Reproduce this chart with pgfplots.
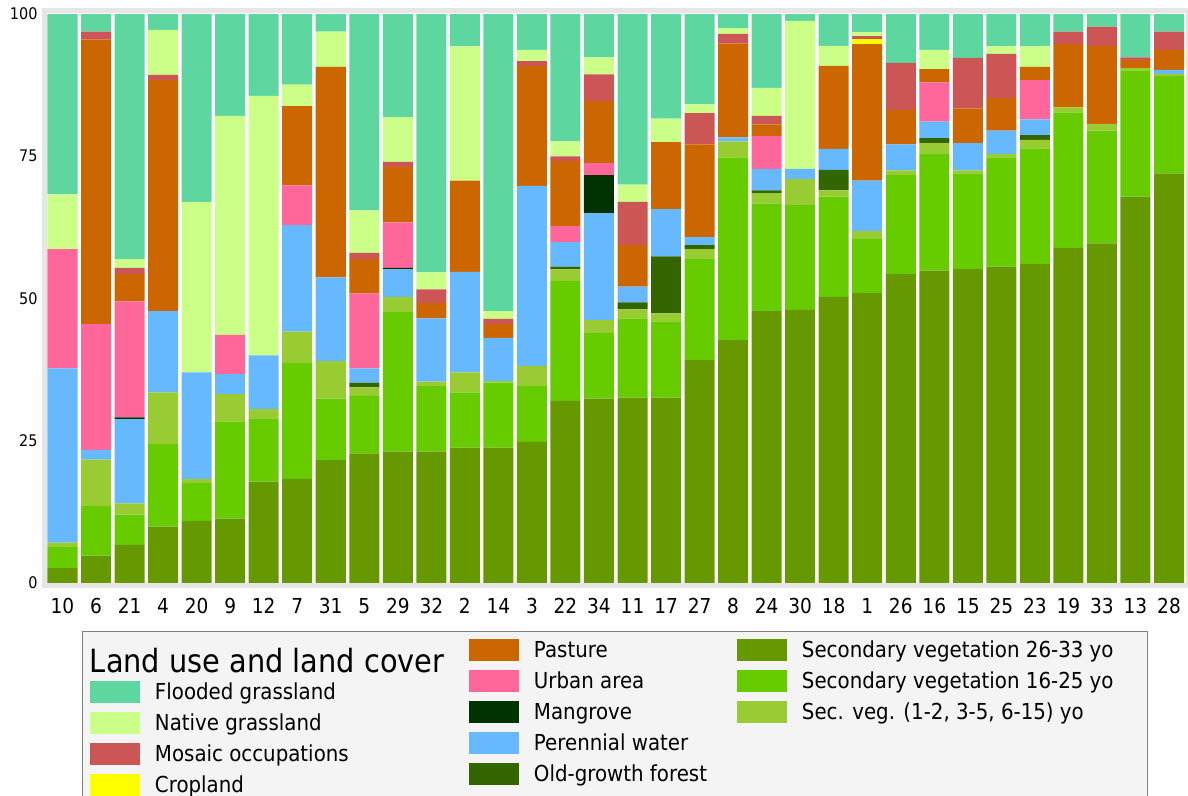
\documentclass[border=0pt]{standalone}
\usepackage{fontspec}
\setmainfont{DejaVu Sans}[FakeStretch=0.9]
\usepackage{pgfplots}
\usepackage{pgfplotstable}
\pgfplotsset{compat=1.18}

\definecolor{cFlo}{HTML}{5ED6A0}
\definecolor{cNat}{HTML}{CCFF88}
\definecolor{cMos}{HTML}{CC5555}
\definecolor{cCrop}{HTML}{FFFF00}
\definecolor{cPast}{HTML}{CC6600}
\definecolor{cUrb}{HTML}{FF6699}
\definecolor{cMang}{HTML}{003300}
\definecolor{cWat}{HTML}{66B8FF}
\definecolor{cOld}{HTML}{336600}
\definecolor{cSA}{HTML}{669900}
\definecolor{cSB}{HTML}{66CC00}
\definecolor{cSC}{HTML}{99CC33}
\definecolor{frm}{HTML}{E6E6E6}
\definecolor{legbg}{HTML}{F4F4F4}

\pgfplotstableread{
x lab olive green yg og wat mang urb past crop mos nat flo
0  10 2.6  3.7  0.8 0    30.6 0   21.0 0    0   0   9.6  31.7
1  6  4.8  8.7  8.2 0    1.7  0   22.1 50.0 0   1.4 0    3.1
2  21 6.7  5.3  2.0 0    14.8 0.3 20.4 4.8  0   1.1 1.5  43.1
3  4  9.9  14.5 9.1 0    14.3 0   0    40.6 0   0.9 7.9  2.8
4  20 10.9 6.7  0.7 0    18.7 0   0    0    0   0   30.0 33.0
5  9  11.3 17.1 4.8 0    3.5  0   6.9  0    0   0   38.5 17.9
6  12 17.8 11.0 1.8 0    9.4  0   0    0    0   0   45.6 14.4
7  7  18.3 20.4 5.5 0    18.7 0   7.0  13.9 0   0   3.8  12.4
8  31 21.6 10.8 6.6 0    14.7 0   0    37.0 0   0   6.2  3.1
9  5  22.8 10.1 1.5 0.8  2.5  0   13.2 6.0  0   1.1 7.5  34.5
10 29 23.1 24.5 2.7 0    4.8  0.3 8.0  9.7  0   0.9 7.9  18.1
11 32 23.1 11.5 0.8 0    11.1 0   0    2.7  0   2.4 3.0  45.4
12 2  23.8 9.7  3.5 0    17.7 0   0    16.0 0   0   23.6 5.7
13 14 23.8 11.4 0.3 0    7.6  0   0    2.4  0   0.9 1.4  52.2
14 3  24.8 9.8  3.5 0    31.7 0   0    21.1 0   0.8 2.0  6.3
15 22 32.0 21.1 2.0 0.5  4.3  0   2.8  11.5 0   0.8 2.6  22.4
16 34 32.4 11.5 2.3 0    18.8 6.7 2.1  10.9 0   4.7 3.0  7.6
17 11 32.6 13.9 1.6 1.2  2.8  0   0    7.3  0   7.6 3.0  30.0
18 17 32.6 13.4 1.4 10.0 8.3  0   0    11.8 0   0   4.1  18.4
19 27 39.2 17.7 1.8 0.7  1.4  0   0    16.3 0   5.5 1.5  15.9
20 8  42.7 32.1 2.8 0    0.7  0   0    16.5 0   1.7 1.0  2.5
21 24 47.8 18.9 1.8 0.5  3.8  0   5.8  2.0  0   1.5 4.9  13.0
22 30 48.0 18.4 4.6 0    1.8  0   0    0    0   0   26.0 1.2
23 18 50.3 17.6 1.1 3.6  3.7  0   0    14.6 0   0   3.5  5.6
24 1  51.0 9.5  1.4 0    8.8  0   0    24.0 0.9 0.5 0.7  3.2
25 26 54.3 17.4 0.8 0    4.6  0   0    6.0  0   8.3 0    8.6
26 16 54.9 20.6 1.8 0.9  2.9  0   6.9  2.3  0   0   3.4  6.3
27 15 55.2 16.8 0.5 0    4.8  0   0    6.1  0   8.9 0    7.7
28 25 55.6 19.2 0.6 0    4.1  0   0    5.7  0   7.8 1.3  5.7
29 23 56.1 20.3 1.5 0.8  2.8  0   6.9  2.3  0   0   3.6  5.7
30 19 58.9 23.8 0.9 0    0    0   0    11.1 0   2.2 0    3.1
31 33 59.7 19.8 1.2 0    0    0   0    13.7 0   3.4 0    2.2
32 13 67.9 22.2 0.4 0    0    0   0    1.4  0   0.5 0    7.6
33 28 72.0 17.1 0.4 0    0.7  0   0    3.5  0   3.2 0    3.1
}\data

% swatch + gap inside a legend entry
\newcommand{\swatch}[1]{\raisebox{-1.375pt}{\textcolor{#1}{\rule{25pt}{10.75pt}}}\hspace{7.5pt}}
% entry on the col2/col3 row grid
\newcommand{\legA}[3]{\raisebox{0pt}[11.75pt][3.75pt]{\makebox[#1][l]{\swatch{#2}#3}}}
% entry in column 1 (set 5.5pt lower)
\newcommand{\legB}[3]{\raisebox{-5.5pt}[11.75pt][3.75pt]{\makebox[#1][l]{\swatch{#2}#3}}}

\begin{document}
\begin{tikzpicture}
\useasboundingbox (-22.25pt,-105.25pt) rectangle (571.75pt,292.75pt);
\begin{axis}[
  scale only axis,
  width=571.75pt, height=287.5pt,
  ybar stacked,
  bar width=0.895,
  xmin=-0.537, xmax=33.567,
  ymin=-0.44, ymax=100.62,
  xtick={0,...,33},
  xticklabels from table={\data}{lab},
  ytick={0,25,50,75,100},
  major tick length=0pt,
  axis line style={draw=frm, line width=2.5pt},
  /pgf/number format/assume math mode=true,
  xticklabel style={font=\fontsize{10.3}{12}\selectfont, yshift=-3pt},
  yticklabel style={font=\fontsize{8}{10}\selectfont},
  legend columns=3,
  legend cell align=left,
  legend style={at={(axis description cs:0,0)}, anchor=north west,
    xshift=18.75pt, yshift=-22.75pt,
    draw=gray, fill=legbg, inner xsep=4pt, inner ysep=1.75pt, outer sep=0pt,
    row sep=0pt, column sep=0pt,
    nodes={inner sep=0pt, outer sep=0pt, text depth=},
    font=\fontsize{11}{13}\selectfont},
]
\addplot[fill=cSA, draw=none, forget plot] table[x=x, y=olive]{\data};
\addplot[fill=cSB, draw=none, forget plot] table[x=x, y=green]{\data};
\addplot[fill=cSC, draw=none, forget plot] table[x=x, y=yg]{\data};
\addplot[fill=cOld, draw=none, forget plot] table[x=x, y=og]{\data};
\addplot[fill=cWat, draw=none, forget plot] table[x=x, y=wat]{\data};
\addplot[fill=cMang, draw=none, forget plot] table[x=x, y=mang]{\data};
\addplot[fill=cUrb, draw=none, forget plot] table[x=x, y=urb]{\data};
\addplot[fill=cPast, draw=none, forget plot] table[x=x, y=past]{\data};
\addplot[fill=cCrop, draw=none, forget plot] table[x=x, y=crop]{\data};
\addplot[fill=cMos, draw=none, forget plot] table[x=x, y=mos]{\data};
\addplot[fill=cNat, draw=none, forget plot] table[x=x, y=nat]{\data};
\addplot[fill=cFlo, draw=none, forget plot] table[x=x, y=flo]{\data};

% row 1
\addlegendimage{empty legend}
\addlegendentry{\raisebox{-7.5pt}[11.75pt][3.75pt]{\makebox[189.5pt][l]{\fontsize{16}{18}\selectfont Land use and land cover}}}
\addlegendimage{empty legend}\addlegendentry{\legA{134pt}{cPast}{Pasture}}
\addlegendimage{empty legend}\addlegendentry{\legA{201pt}{cSA}{Secondary vegetation 26-33 yo}}
% row 2
\addlegendimage{empty legend}\addlegendentry{\legB{189.5pt}{cFlo}{Flooded grassland}}
\addlegendimage{empty legend}\addlegendentry{\legA{134pt}{cUrb}{Urban area}}
\addlegendimage{empty legend}\addlegendentry{\legA{201pt}{cSB}{Secondary vegetation 16-25 yo}}
% row 3
\addlegendimage{empty legend}\addlegendentry{\legB{189.5pt}{cNat}{Native grassland}}
\addlegendimage{empty legend}\addlegendentry{\legA{134pt}{cMang}{Mangrove}}
\addlegendimage{empty legend}\addlegendentry{\legA{201pt}{cSC}{Sec. veg. (1-2, 3-5, 6-15) yo}}
% row 4
\addlegendimage{empty legend}\addlegendentry{\legB{189.5pt}{cMos}{Mosaic occupations}}
\addlegendimage{empty legend}\addlegendentry{\legA{134pt}{cWat}{Perennial water}}
\addlegendimage{empty legend}\addlegendentry{\raisebox{0pt}[11.75pt][3.75pt]{\makebox[201pt]{}}}
% row 5 (extra depth: the legend box runs past the picture's lower edge)
\addlegendimage{empty legend}\addlegendentry{\raisebox{-5.5pt}[11.75pt][9pt]{\makebox[189.5pt][l]{\swatch{cCrop}Cropland}}}
\addlegendimage{empty legend}\addlegendentry{\raisebox{0pt}[11.75pt][9pt]{\makebox[134pt][l]{\swatch{cOld}Old-growth forest}}}
\addlegendimage{empty legend}\addlegendentry{\raisebox{0pt}[11.75pt][9pt]{\makebox[201pt]{}}}
\end{axis}
\end{tikzpicture}
\end{document}
